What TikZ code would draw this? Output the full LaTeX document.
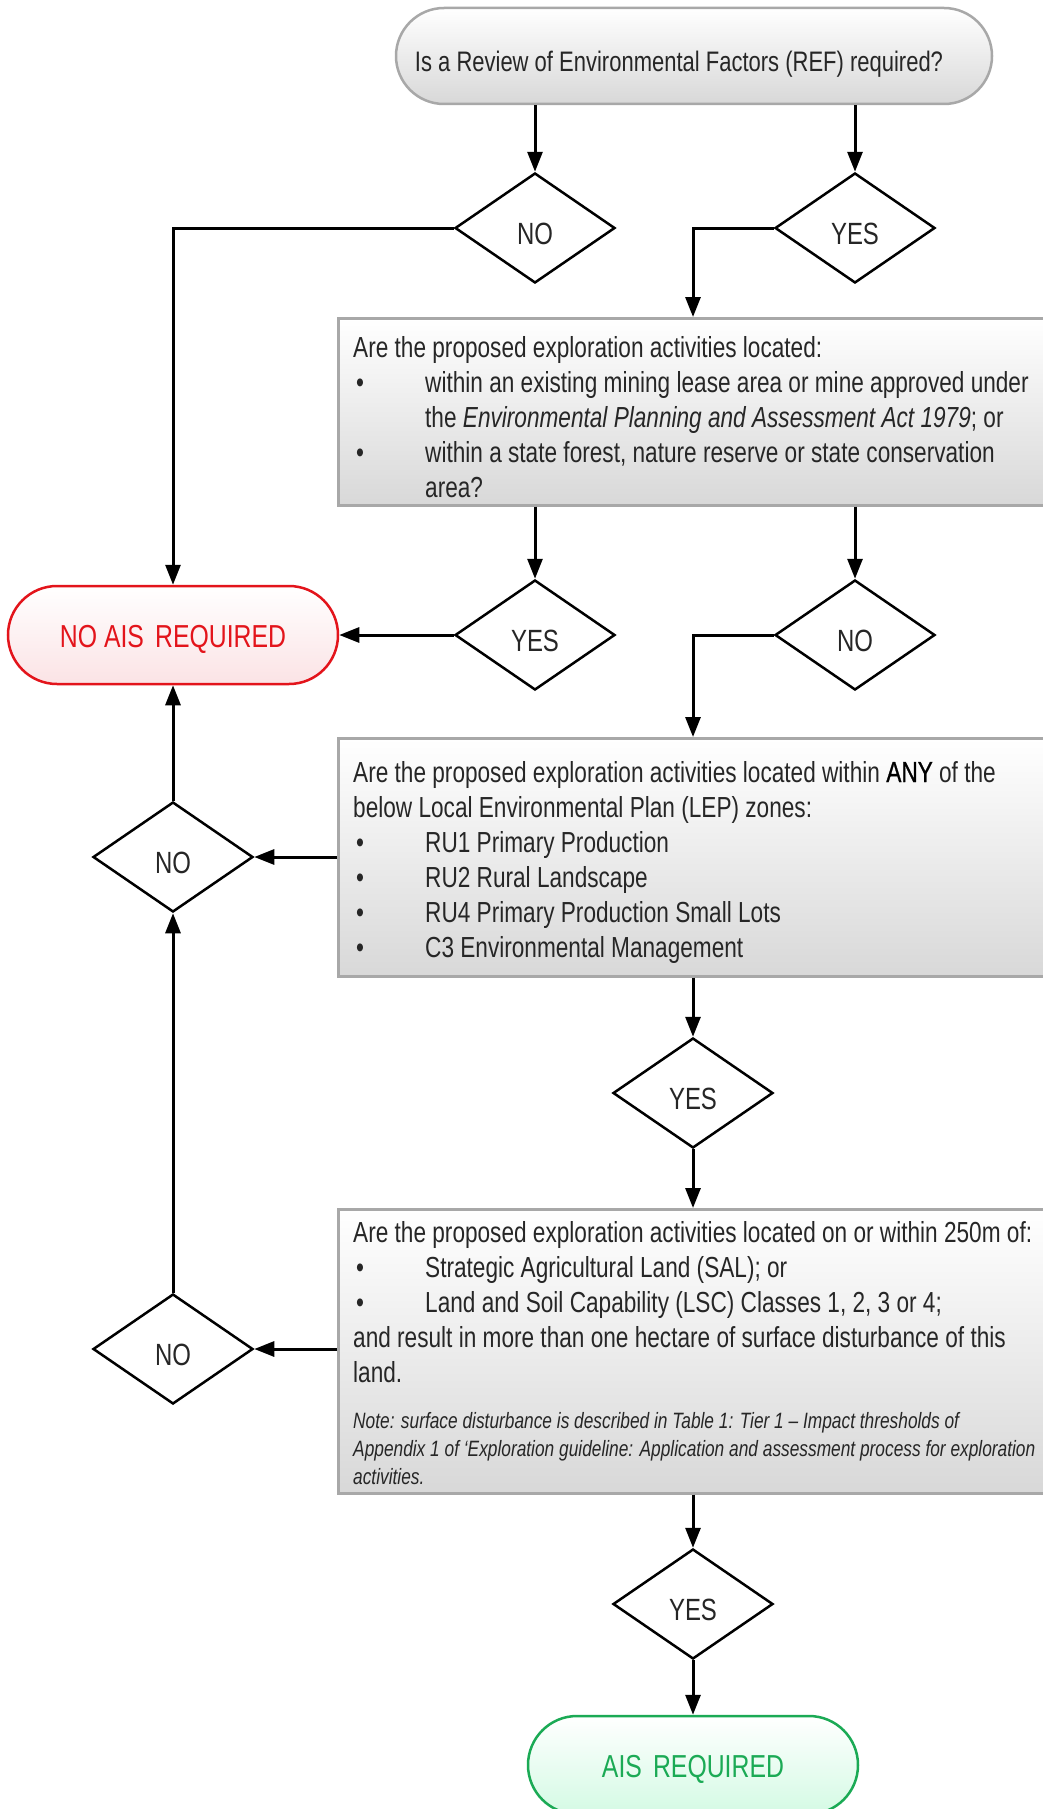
\documentclass[tikz,border=0pt]{standalone}
\usepackage{fontspec}
\setmainfont{Liberation Sans}[FakeStretch=0.78]
\usetikzlibrary{shapes.geometric,shapes.misc,arrows.meta,calc}
\definecolor{txt}{HTML}{262626}
\definecolor{boxgray}{HTML}{A8A8A8}
\definecolor{boxbot}{HTML}{D8D8D8}
\definecolor{nored}{HTML}{E3141B}
\definecolor{nobot}{HTML}{FBE3E5}
\definecolor{yesgreen}{HTML}{1BAA55}
\definecolor{yesbot}{HTML}{D4FAE4}
\newcommand{\bul}{\makebox[72pt][l]{\hspace{3pt}\textbullet}}
\tikzset{
  arr/.style={line width=3pt, -{Triangle[length=20pt,width=15pt]}},
  dec/.style={diamond, draw=black, line width=2.5pt, minimum width=160pt, minimum height=110pt,
    inner sep=0pt, font=\fontsize{30.7}{30.7}\selectfont, text=txt, text height=32pt, text depth=0pt},
  qbox/.style={rectangle, draw=boxgray, line width=2.5pt, top color=white, bottom color=boxbot,
    anchor=north west, inner sep=0pt, minimum width=730pt},
  btext/.style={anchor=base west, inner sep=0pt, text=txt, font=\fontsize{29}{35}\selectfont},
  ntext/.style={anchor=base west, inner sep=0pt, text=txt, font=\fontsize{22.2}{28.3}\selectfont\itshape},
  endpill/.style={rounded rectangle, line width=2.5pt, minimum width=330pt, minimum height=98pt,
    inner sep=0pt, font=\fontsize{31.8}{31.8}\selectfont, text height=25pt, text depth=0pt},
}
\begin{document}
\begin{tikzpicture}[x=1pt,y=-1pt]
\useasboundingbox[fill=white] (0,0) rectangle (1043,1809);

% top question
\node[rounded rectangle, draw=boxgray, line width=2.5pt, top color=white, bottom color=boxbot,
  minimum width=596pt, minimum height=96pt, inner sep=0pt, font=\fontsize{28.2}{28.2}\selectfont, text=txt,
  text height=32pt, text depth=0pt]
  (top) at (694,56) {\hspace*{-30pt}Is a Review of Environmental Factors (REF) required?};

\node[dec] (no1) at (535,228) {NO};
\node[dec] (yes1) at (855,228) {YES};

% box 2
\node[qbox, minimum height=187pt] (b2) at (337,317) {};
\node[btext] (t2) at (353,357) {\parbox[t]{690pt}{Are the proposed exploration activities located:\\
\bul within an existing mining lease area or mine approved under\\
\hspace*{72pt}the \textit{Environmental Planning and Assessment Act 1979}; or\\
\bul within a state forest, nature reserve or state conservation\\
\hspace*{72pt}area?}};

\node[dec] (yes2) at (535,635) {YES};
\node[dec] (no2) at (855,635) {NO};

\node[endpill, draw=nored, top color=white, bottom color=nobot, text=nored] (nais) at (173,635)
  {NO AIS\hspace{0.35em}REQUIRED};

% box 3
\node[qbox, minimum height=238pt] (b3) at (337,737) {};
\node[btext] (t3) at (353,782) {\parbox[t]{690pt}{Are the proposed exploration activities located within {\color{black}\addfontfeature{FakeBold=0.8}ANY} of the\\
below Local Environmental Plan (LEP) zones:\\
\bul RU1 Primary Production\\
\bul RU2 Rural Landscape\\
\bul RU4 Primary Production Small Lots\\
\bul C3 Environmental Management}};

\node[dec] (no3) at (173,857) {NO};
\node[dec] (yes3) at (693,1093) {YES};

% box 4
\node[qbox, minimum height=284pt] (b4) at (337,1208) {};
\node[btext] (t4) at (353,1242) {\parbox[t]{690pt}{Are the proposed exploration activities located on or within 250m of:\\
\bul Strategic Agricultural Land (SAL); or\\
\bul Land and Soil Capability (LSC) Classes 1, 2, 3 or 4;\\
and result in more than one hectare of surface disturbance of this\\
land.}};
\node[ntext] (n4) at (353,1428) {\parbox[t]{690pt}{Note: surface disturbance is described in Table 1: Tier 1 – Impact thresholds of\\
Appendix 1 of `Exploration guideline: Application and assessment process for exploration\\
activities.}};

\node[dec] (no4) at (173,1349) {NO};
\node[dec] (yes4) at (693,1604) {YES};

\node[endpill, draw=yesgreen, top color=white, bottom color=yesbot, text=yesgreen] (ais) at (693,1765)
  {AIS\hspace{0.35em}REQUIRED};

% connectors
\draw[arr] (top.south -| no1) -- (no1.north);
\draw[arr] (top.south -| yes1) -- (yes1.north);
\draw[arr] (no1.west) -| (nais.north);
\draw[arr] (yes1.west) -| (b2.north -| yes3);
\draw[arr] (b2.south -| yes2) -- (yes2.north);
\draw[arr] (b2.south -| no2) -- (no2.north);
\draw[arr] (yes2.west) -- (nais.east);
\draw[arr] (no2.west) -| (b3.north -| yes3);
\draw[arr] (b3.west |- no3) -- (no3.east);
\draw[arr] (no3.north) -- (nais.south);
\draw[arr] (b3.south -| yes3) -- (yes3.north);
\draw[arr] (yes3.south) -- (b4.north -| yes3);
\draw[arr] (b4.west |- no4) -- (no4.east);
\draw[arr] (no4.north) -- (no3.south);
\draw[arr] (b4.south -| yes4) -- (yes4.north);
\draw[arr] (yes4.south) -- (ais.north);
\end{tikzpicture}
\end{document}
